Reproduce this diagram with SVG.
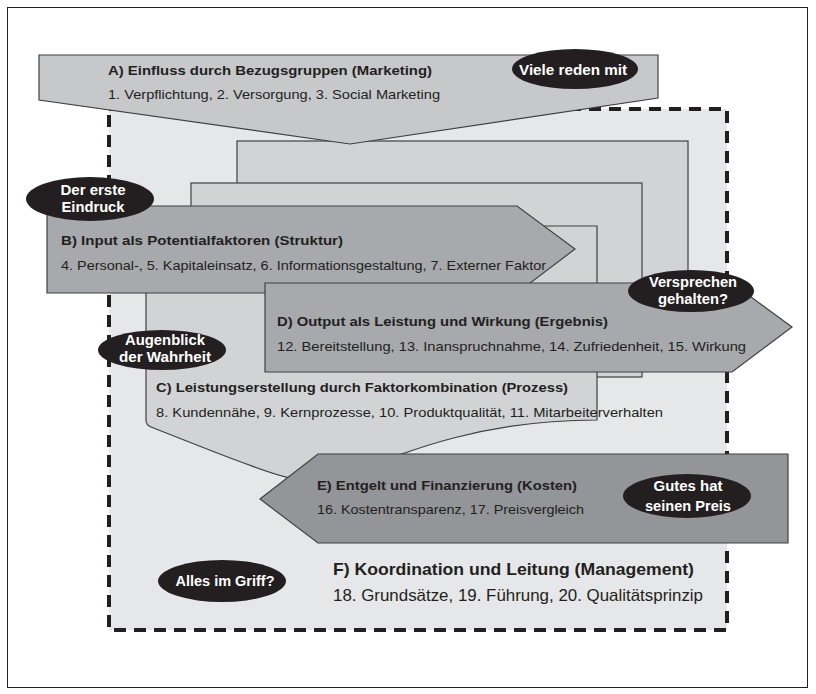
<svg xmlns="http://www.w3.org/2000/svg" width="816" height="694" viewBox="0 0 816 694">
<style>
.frame{fill:#fff;stroke:#231f20;stroke-width:1}
.zone{fill:#e6e7e8}
.dash{fill:none;stroke:#231f20;stroke-width:4;stroke-dasharray:12 8}
.back{fill:#d1d3d4;stroke:#414042;stroke-width:1.2}
.la{fill:#c7c8ca;stroke:#414042;stroke-width:1.2}
.mid{fill:#a7a9ac;stroke:#414042;stroke-width:1.2}
.dark{fill:#939598;stroke:#414042;stroke-width:1.2}
.blob{fill:#231f20}
text{font-family:"Liberation Sans",Arial,sans-serif;fill:#231f20}
.t{font-size:13px;font-weight:bold}
.s{font-size:13px}
.ft{font-size:17px;font-weight:bold}
.fs{font-size:17px}
.w{font-size:14px;font-weight:bold;fill:#fff;text-anchor:middle}
</style>
<rect class="frame" x="7.5" y="7.5" width="800" height="680"/>
<g id="F">
<rect class="zone" x="109" y="109" width="618" height="521"/>
<rect class="dash" x="109" y="109" width="618" height="521"/>
<text class="ft" x="333" y="575" textLength="361" lengthAdjust="spacingAndGlyphs">F) Koordination und Leitung (Management)</text>
<text class="fs" x="333" y="601" textLength="370" lengthAdjust="spacingAndGlyphs">18. Grundsätze, 19. Führung, 20. Qualitätsprinzip</text>
</g>
<g id="back1"><rect class="back" x="237" y="141" width="451" height="200"/></g>
<g id="back2"><rect class="back" x="191" y="183" width="451" height="194"/></g>
<g id="C">
<path class="back" d="M146,226 H597 V420 C480,420 405,452 345,476 C310,490 290,482 151,427 Q146,425 146,420 Z"/>
<text class="t" x="156" y="392" textLength="412" lengthAdjust="spacingAndGlyphs">C) Leistungserstellung durch Faktorkombination (Prozess)</text>
<text class="s" x="156" y="417" textLength="507" lengthAdjust="spacingAndGlyphs">8. Kundennähe, 9. Kernprozesse, 10. Produktqualität, 11. Mitarbeiterverhalten</text>
</g>
<g id="A">
<polygon class="la" points="39,55 658,55 658,98 350,144 39,100"/>
<text class="t" x="108" y="75" textLength="324" lengthAdjust="spacingAndGlyphs">A) Einfluss durch Bezugsgruppen (Marketing)</text>
<text class="s" x="108" y="99" textLength="332" lengthAdjust="spacingAndGlyphs">1. Verpflichtung, 2. Versorgung, 3. Social Marketing</text>
</g>
<g id="B">
<polygon class="mid" points="47,206 517,206 575,249 517,293 47,293"/>
<text class="t" x="61" y="245" textLength="282" lengthAdjust="spacingAndGlyphs">B) Input als Potentialfaktoren (Struktur)</text>
<text class="s" x="61" y="270" textLength="485" lengthAdjust="spacingAndGlyphs">4. Personal-, 5. Kapitaleinsatz, 6. Informationsgestaltung, 7. Externer Faktor</text>
</g>
<g id="D">
<polygon class="mid" points="265,283 732,283 792,327 732,372 265,372"/>
<text class="t" x="277" y="326" textLength="331" lengthAdjust="spacingAndGlyphs">D) Output als Leistung und Wirkung (Ergebnis)</text>
<text class="s" x="277" y="351" textLength="469" lengthAdjust="spacingAndGlyphs">12. Bereitstellung, 13. Inanspruchnahme, 14. Zufriedenheit, 15. Wirkung</text>
</g>
<g id="E">
<polygon class="dark" points="260,499 318,454 788,454 788,543 318,543"/>
<text class="t" x="317" y="490" textLength="260" lengthAdjust="spacingAndGlyphs">E) Entgelt und Finanzierung (Kosten)</text>
<text class="s" x="317" y="514" textLength="267" lengthAdjust="spacingAndGlyphs">16. Kostentransparenz, 17. Preisvergleich</text>
</g>
<g id="n-viele">
<ellipse class="blob" cx="575" cy="69" rx="63" ry="20"/>
<text class="w" x="573" y="75" textLength="108" lengthAdjust="spacingAndGlyphs">Viele reden mit</text>
</g>
<g id="n-eindruck">
<ellipse class="blob" cx="90" cy="199" rx="64" ry="22"/>
<text class="w" x="93" y="195" textLength="65" lengthAdjust="spacingAndGlyphs">Der erste</text>
<text class="w" x="93" y="212" textLength="63" lengthAdjust="spacingAndGlyphs">Eindruck</text>
</g>
<g id="n-augenblick">
<ellipse class="blob" cx="162" cy="350" rx="64" ry="20"/>
<text class="w" x="165" y="345" textLength="80" lengthAdjust="spacingAndGlyphs">Augenblick</text>
<text class="w" x="165" y="362" textLength="92" lengthAdjust="spacingAndGlyphs">der Wahrheit</text>
</g>
<g id="n-versprechen">
<ellipse class="blob" cx="691" cy="291" rx="63" ry="21"/>
<text class="w" x="693" y="287" textLength="88" lengthAdjust="spacingAndGlyphs">Versprechen</text>
<text class="w" x="693" y="304" textLength="70" lengthAdjust="spacingAndGlyphs">gehalten?</text>
</g>
<g id="n-gutes">
<ellipse class="blob" cx="687" cy="496" rx="64" ry="22"/>
<text class="w" x="688" y="491" textLength="69" lengthAdjust="spacingAndGlyphs">Gutes hat</text>
<text class="w" x="688" y="511" textLength="86" lengthAdjust="spacingAndGlyphs">seinen Preis</text>
</g>
<g id="n-griff">
<ellipse class="blob" cx="222" cy="581" rx="64" ry="21"/>
<text class="w" x="225" y="586" textLength="99" lengthAdjust="spacingAndGlyphs">Alles im Griff?</text>
</g>
<g id="connectors"/>
</svg>
